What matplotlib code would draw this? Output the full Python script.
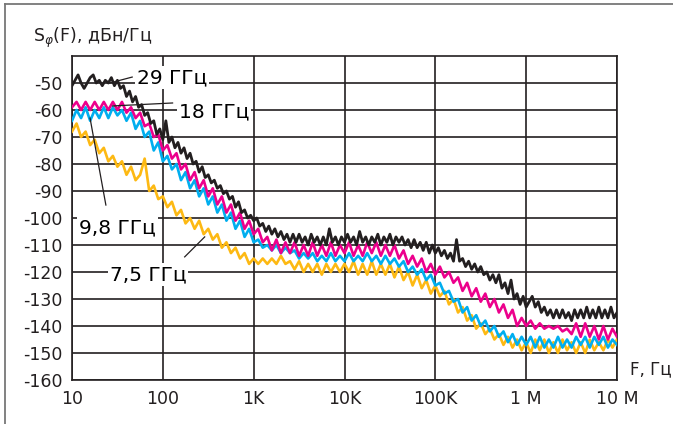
import numpy as np
import matplotlib
matplotlib.use("Agg")
import matplotlib.pyplot as plt
from matplotlib.lines import Line2D

# Фазовый шум, дБн/Гц, от 10 Гц до 10 МГц
# цветные кривые: 20 точек на декаду, черная: 30 точек на декаду
f_col = np.logspace(1, 7, 121)
f_blk = np.logspace(1, 7, 181)

s29 = [-51, -49, -47, -50, -52, -50, -48, -47, -50, -49, -51, -49, -50, -48, -51, -49,
       -52, -51, -55, -53, -57, -55, -59, -58, -62, -61, -65, -64, -69, -67, -71,
       -64, -72, -70, -74, -72, -76, -74, -78, -76, -80, -79, -83, -81, -85, -84,
       -87, -86, -89, -88, -91, -90, -93, -92, -96, -94, -98, -97, -100, -99, -101,
       -100, -103, -102, -105, -103, -106, -104, -107, -105, -108, -106, -109, -106, -109, -106,
       -109, -107, -110, -106, -109, -107, -110, -107, -110, -104, -109, -107, -110, -107, -109,
       -106, -109, -107, -110, -105, -109, -107, -110, -107, -109, -106, -110, -107, -109, -106,
       -110, -107, -109, -107, -110, -108, -111, -108, -111, -109, -112, -109, -113, -110, -113,
       -111, -114, -112, -115, -113, -116, -108, -116, -115, -118, -116, -119, -117, -120, -118,
       -121, -120, -123, -121, -124, -121, -126, -124, -128, -123, -130, -128, -132, -129, -133,
       -131, -129, -133, -131, -135, -133, -136, -134, -137, -134, -137, -134, -137, -135, -138,
       -134, -137, -134, -137, -133, -137, -134, -137, -133, -137, -134, -137, -133, -137, -135]

s18 = [-59, -57, -60, -57, -60, -57, -60, -57, -60, -57, -60, -57, -61, -59, -63, -61,
       -66, -65, -70, -69, -75,
       -73, -78, -76, -82, -80, -86, -83, -89, -86, -92, -89, -95, -92, -98, -95,
       -101, -98, -104, -101, -106,
       -104, -109, -107, -112, -108, -113, -109, -113, -109, -114, -110, -114, -109, -114, -110,
       -114, -109, -114, -110, -113,
       -109, -114, -110, -114, -109, -113, -109, -114, -110, -114, -110, -115, -112, -117, -114,
       -118, -115, -120, -117, -121,
       -118, -122, -120, -124, -122, -127, -124, -129, -126, -131, -128, -133, -130, -135, -132,
       -137, -134, -140, -137, -140,
       -138, -141, -139, -141, -140, -141, -140, -142, -141, -143, -139, -144, -139, -144, -140,
       -145, -140, -145, -141, -144]

s98 = [-64, -60, -63, -59, -64, -60, -63, -59, -63, -59, -62, -60, -64, -61, -67, -64,
       -70, -68, -75, -72, -79,
       -77, -82, -80, -86, -83, -89, -86, -92, -89, -95, -92, -98, -95, -101, -98,
       -104, -101, -107, -104, -109,
       -108, -111, -110, -112, -110, -113, -111, -113, -112, -115, -113, -115, -113, -116, -114,
       -116, -113, -116, -114, -116,
       -113, -116, -114, -116, -113, -116, -114, -117, -114, -117, -115, -118, -116, -120, -118,
       -121, -119, -123, -121, -125,
       -124, -128, -127, -131, -130, -135, -133, -138, -136, -140, -138, -142, -140, -144, -142,
       -146, -143, -147, -144, -147,
       -144, -148, -144, -148, -145, -148, -144, -148, -145, -148, -144, -147, -144, -148, -144,
       -147, -144, -148, -145, -147]

s75 = [-68, -65, -70, -68, -73, -71, -76, -74, -79, -77, -81, -79, -84, -81, -86, -84,
       -78, -90, -88, -93, -92,
       -96, -94, -99, -97, -102, -100, -104, -101, -106, -104, -108, -106, -111, -109, -113,
       -111, -115, -113, -117, -115,
       -117, -115, -117, -115, -117, -114, -117, -116, -119, -116, -120, -117, -120, -117, -121,
       -117, -120, -117, -120, -117,
       -120, -116, -121, -117, -121, -116, -121, -117, -121, -117, -122, -118, -123, -120, -125,
       -121, -126, -123, -128, -125,
       -129, -127, -132, -130, -135, -133, -138, -136, -141, -139, -143, -141, -145, -143, -147,
       -144, -148, -145, -149, -146,
       -150, -145, -149, -145, -150, -146, -150, -145, -149, -146, -150, -146, -150, -145, -149,
       -146, -149, -145, -148, -145]

ticks_x = [1e1, 1e2, 1e3, 1e4, 1e5, 1e6, 1e7]
labels_x = ['10', '100', '1K', '10K', '100K', '1 M', '10 M']
ticks_y = list(range(-160, -40, 10))

plt.rcParams['font.family'] = ['DejaVu Sans']
plt.rcParams['axes.unicode_minus'] = False

fig = plt.figure(figsize=(6.73, 4.24), dpi=100)
ax = fig.add_axes([72/673, 44/424, 545/673, 324/424])

ax.plot(f_col, s75, color='#fdb913', lw=1.9, zorder=3)
ax.plot(f_col, s98, color='#00aeef', lw=1.9, zorder=4)
ax.plot(f_col, s18, color='#ec008c', lw=1.9, zorder=5)
ax.plot(f_blk, s29, color='#231f20', lw=2.0, zorder=6)

ax.set_xscale('log')
ax.set_xlim(10, 1e7)
ax.set_ylim(-160, -40)
ax.set_xticks(ticks_x)
ax.set_xticklabels(labels_x)
ax.xaxis.set_minor_locator(matplotlib.ticker.NullLocator())
ax.set_yticks(ticks_y)
ax.set_yticklabels([str(v) for v in ticks_y])
ax.tick_params(length=0, labelsize=12.5, colors='#231f20', pad=7)
ax.grid(True, color='#231f20', lw=1.2, zorder=1)
ax.set_axisbelow(True)
for sp in ax.spines.values():
    sp.set_color('#231f20')
    sp.set_linewidth(1.2)

# подписи кривых
box = dict(facecolor='white', edgecolor='none', pad=1.5)
ax.text(52, -50, '29 ГГц', fontsize=14.5, ha='left', va='baseline', bbox=box, zorder=7)
ax.text(150, -62.6, '18 ГГц', fontsize=14.5, ha='left', va='baseline', bbox=box, zorder=7)
ax.text(11.9, -105.6, '9,8 ГГц', fontsize=14.5, ha='left', va='baseline', bbox=box, zorder=7)
ax.text(26, -123, '7,5 ГГц', fontsize=14.5, ha='left', va='baseline', bbox=box, zorder=7)
ax.plot([26, 46], [-50, -47.8], color='#231f20', lw=0.9, zorder=8)
ax.plot([28, 128], [-58.5, -57.4], color='#231f20', lw=0.9, zorder=8)
ax.plot([15.8, 23.6], [-63, -95.2], color='#231f20', lw=0.9, zorder=8)
ax.plot([174, 289], [-114.4, -107], color='#231f20', lw=0.9, zorder=8)

fig.text(33/673, 1 - 38/424, r'S$_{\varphi}$(F), дБн/Гц', fontsize=12.5, ha='left', va='center',
         color='#231f20')
fig.text(630/673, 1 - 369/424, 'F, Гц', fontsize=12, ha='left', va='center', color='#231f20')

# рамка
fig.add_artist(Line2D([5/673, 5/673], [0, 1 - 4/424], color='#777777', lw=1.3))
fig.add_artist(Line2D([5/673, 1], [1 - 4/424, 1 - 4/424], color='#777777', lw=1.3))

fig.savefig('out.png', dpi=100)
